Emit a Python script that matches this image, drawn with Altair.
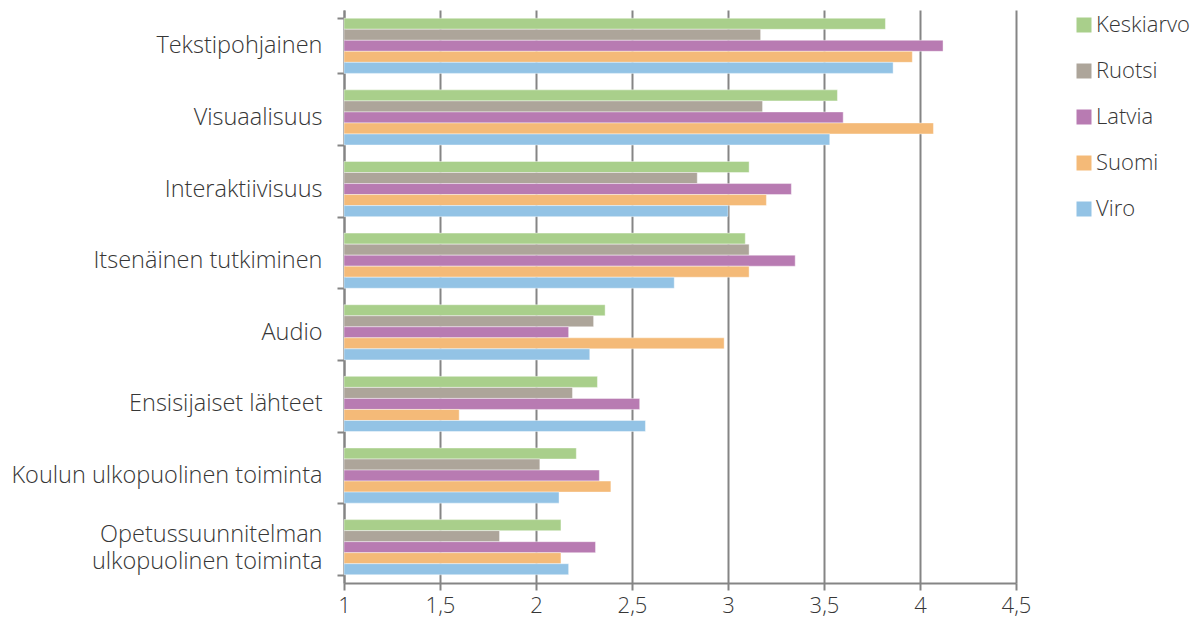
import altair as alt
import pandas as pd

categories = [
    "Tekstipohjainen",
    "Visuaalisuus",
    "Interaktiivisuus",
    "Itsenäinen tutkiminen",
    "Audio",
    "Ensisijaiset lähteet",
    "Koulun ulkopuolinen toiminta",
    "Opetussuunnitelman|ulkopuolinen toiminta",
]
series = ["Keskiarvo", "Ruotsi", "Latvia", "Suomi", "Viro"]
colors = ["#A9CF8B", "#ADA59A", "#B87BB2", "#F4BA78", "#93C3E5"]

keskiarvo = [3.82, 3.57, 3.11, 3.09, 2.36, 2.32, 2.21, 2.13]
ruotsi = [3.17, 3.18, 2.84, 3.11, 2.30, 2.19, 2.02, 1.81]
latvia = [4.12, 3.60, 3.33, 3.35, 2.17, 2.54, 2.33, 2.31]
suomi = [3.96, 4.07, 3.20, 3.11, 2.98, 1.60, 2.39, 2.13]
viro = [3.86, 3.53, 3.00, 2.72, 2.28, 2.57, 2.12, 2.17]

values = [keskiarvo, ruotsi, latvia, suomi, viro]
rows = []
for s, vals in zip(series, values):
    for c, v in zip(categories, vals):
        rows.append({"kategoria": c, "sarja": s, "arvo": v})
df = pd.DataFrame(rows)

FONT = "Open Sans"
TXT = "#363636"
GRID = "#858585"

y_scale = alt.Scale(paddingInner=0.23, paddingOuter=0.115)

bars = (
    alt.Chart(df)
    .mark_bar(stroke="white", strokeWidth=0.6, strokeOpacity=0.7)
    .encode(
        x=alt.X(
            "arvo:Q",
            scale=alt.Scale(domain=[1, 4.5], nice=False, zero=False, clamp=True),
            axis=alt.Axis(
                title=None,
                values=[1, 1.5, 2, 2.5, 3, 3.5, 4, 4.5],
                labelExpr="replace(toString(datum.value), '.', ',')",
                grid=True,
                gridColor=GRID,
                gridWidth=2,
                domainColor=GRID,
                domainWidth=2,
                tickColor=GRID,
                tickWidth=2,
                tickSize=7,
                labelFont=FONT,
                labelFontWeight=300,
                labelFontSize=22,
                labelColor=TXT,
                labelPadding=5,
                labelFlush=False,
            ),
        ),
        y=alt.Y(
            "kategoria:N",
            sort=categories,
            scale=y_scale,
            axis=alt.Axis(
                title=None,
                orient="left",
                labelExpr="indexof(datum.label, '|') >= 0 ? '' : datum.label",
                grid=False,
                tickBand="extent",
                domainColor=GRID,
                domainWidth=2,
                tickColor=GRID,
                tickWidth=2,
                tickSize=7,
                labelFont=FONT,
                labelFontWeight=300,
                labelFontSize=23.5,
                labelColor=TXT,
                labelPadding=15,
                labelLimit=400,
            ),
        ),
        yOffset=alt.YOffset("sarja:N", sort=series),
        color=alt.Color(
            "sarja:N",
            sort=series,
            scale=alt.Scale(domain=series, range=colors),
            legend=alt.Legend(
                title=None,
                orient="none",
                legendX=729,
                legendY=4,
                symbolType="square",
                symbolSize=225,
                symbolStrokeWidth=0,
                labelFont=FONT,
                labelFontWeight=300,
                labelFontSize=22,
                labelColor=TXT,
                labelOffset=1,
                rowPadding=24,
                labelLimit=200,
            ),
        ),
    )
)

# second (label-only) axis for the two-line category label, centred on its band
two_line = (
    alt.Chart(df)
    .mark_bar(opacity=0)
    .encode(
        y=alt.Y(
            "kategoria:N",
            sort=categories,
            scale=y_scale,
            axis=alt.Axis(
                title=None,
                orient="left",
                labelExpr="indexof(datum.label, '|') >= 0 ? split(datum.label, '|') : ''",
                grid=False,
                domain=False,
                tickColor="transparent",
                tickSize=7,
                labelFont=FONT,
                labelFontWeight=300,
                labelFontSize=23.5,
                labelColor=TXT,
                labelPadding=15,
                labelLineHeight=27,
                labelOffset=-12,
                labelLimit=400,
            ),
        ),
    )
)

chart = (
    alt.layer(bars, two_line)
    .resolve_axis(y="independent")
    .properties(
        width=672,
        height=573,
        autosize=alt.AutoSizeParams(type="none"),
        padding={"left": 336, "top": 2, "right": 178, "bottom": 37},
    )
    .configure_view(stroke=None)
)

chart.save("out.html", embed_options={"renderer": "svg", "actions": False})
